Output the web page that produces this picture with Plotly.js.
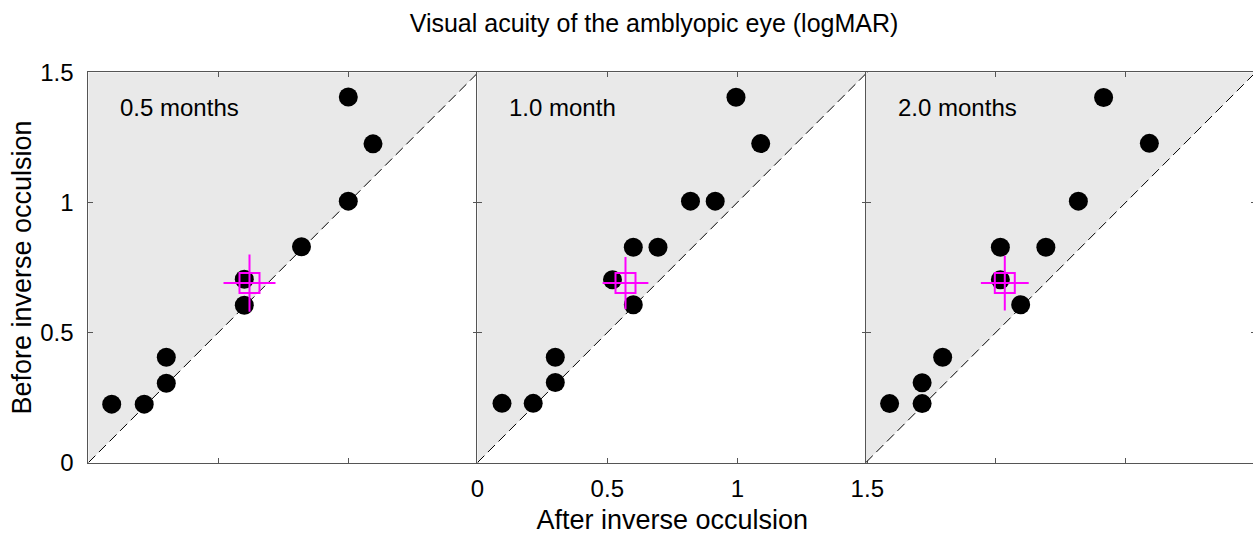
<!DOCTYPE html>
<html>
<head>
<meta charset="utf-8">
<script src="https://cdn.plot.ly/plotly-3.0.1.min.js"></script>
<style>
  html, body { margin: 0; padding: 0; overflow: hidden; background: #fff; }
  #chart { width: 1256px; height: 535px; }
</style>
</head>
<body>
<div id="chart"></div>
<script>
// ---- Data (logMAR) ----
const panelLabels = ["0.5 months", "1.0 month", "2.0 months"];

const after05  = [0.09, 0.215, 0.30, 0.30, 0.60, 0.60, 0.82, 1.00, 1.095, 1.00];
const before05 = [0.225, 0.225, 0.305, 0.405, 0.605, 0.705, 0.83, 1.005, 1.225, 1.405];

const after10  = [0.095, 0.215, 0.30, 0.30, 0.52, 0.60, 0.60, 0.695, 0.82, 0.915, 1.09, 0.995];
const before10 = [0.228, 0.228, 0.308, 0.405, 0.703, 0.607, 0.828, 0.828, 1.005, 1.005, 1.226, 1.404];

const after20  = [0.092, 0.217, 0.217, 0.296, 0.518, 0.518, 0.596, 0.693, 0.818, 1.091, 0.915];
const before20 = [0.227, 0.227, 0.307, 0.405, 0.703, 0.828, 0.607, 0.828, 1.005, 1.227, 1.403];

// mean and SD (magenta square + cross)
const meanAfter  = [0.62, 0.57, 0.535];
const meanBefore = [0.69, 0.69, 0.69];
const sdAfter    = [0.10, 0.088, 0.092];
const sdBefore   = [0.11, 0.10, 0.105];

const tickVals = [0, 0.5, 1, 1.5];
const tickText = ["0", "0.5", "1", "1.5"];

const axisRange = [0, 1.5];

// ---- Layout geometry ----
const W = 1256, H = 535;
const panelLeftPx = [88.3, 477.3, 865.7];
const panelW = 390;
const yTopPx = 72.3, yBotPx = 462.7;

const FONT = "Liberation Sans, Arial, Helvetica, sans-serif";

const afters = [after05, after10, after20];
const befores = [before05, before10, before20];

const traces = [];
const shapes = [];
const annotations = [];
const layout = {
  width: W, height: H,
  margin: {l: 0, r: 0, t: 0, b: 0, autoexpand: false},
  paper_bgcolor: "#fff",
  plot_bgcolor: "#fff",
  showlegend: false,
  font: {family: FONT, color: "#000", size: 24},
  title: {
    text: "Visual acuity of the amblyopic eye (logMAR)",
    font: {family: FONT, size: 25, color: "#000"},
    x: 654 / W, xanchor: "center", xref: "paper",
    y: 1 - 23 / H, yanchor: "middle", yref: "container"
  }
};

const yDomain = [1 - yBotPx / H, 1 - yTopPx / H];

for (let i = 0; i < 3; i++) {
  const sx = i === 0 ? "" : String(i + 1);
  const xa = "x" + sx, ya = "y" + sx;
  const x0 = panelLeftPx[i] / W, x1 = (panelLeftPx[i] + panelW) / W;

  layout["xaxis" + sx] = {
    domain: [x0, x1], range: axisRange, anchor: ya,
    showgrid: false, zeroline: false,
    showline: true, linecolor: "#555", linewidth: 1, mirror: "ticks",
    ticks: "inside", ticklen: 5, tickcolor: "#555", tickwidth: 1,
    tickvals: tickVals, ticktext: tickText,
    showticklabels: i === 1,
    tickfont: {family: FONT, size: 24, color: "#000"},
    ticklabelstandoff: 4,
    fixedrange: true
  };
  if (i === 1) {
    layout["xaxis" + sx].title = {
      text: "After inverse occulsion",
      font: {family: FONT, size: 27, color: "#000"},
      standoff: 10
    };
  }
  layout["yaxis" + sx] = {
    domain: yDomain, range: axisRange, anchor: xa,
    showgrid: false, zeroline: false,
    showline: true, linecolor: "#555", linewidth: 1, mirror: "ticks",
    ticks: "inside", ticklen: 5, tickcolor: "#555", tickwidth: 1,
    tickvals: tickVals, ticktext: tickText,
    showticklabels: i === 0,
    tickfont: {family: FONT, size: 24, color: "#000"},
    ticklabelstandoff: 9,
    fixedrange: true
  };
  if (i === 0) {
    layout["yaxis" + sx].title = {
      text: "Before inverse occulsion",
      font: {family: FONT, size: 27, color: "#000"},
      standoff: 0
    };
  }

  // shaded region above identity line
  shapes.push({
    type: "path", xref: xa, yref: ya,
    path: `M ${axisRange[0]},${axisRange[0]} L ${axisRange[0]},${axisRange[1]} L ${axisRange[1]},${axisRange[1]} Z`,
    fillcolor: "#e9e9e9", line: {width: 0}, layer: "below"
  });
  // dashed identity line
  shapes.push({
    type: "line", xref: xa, yref: ya,
    x0: axisRange[0], y0: axisRange[0], x1: axisRange[1], y1: axisRange[1],
    line: {color: "#000", width: 1, dash: "10px,5px"}, layer: "below"
  });

  traces.push({
    type: "scatter", mode: "markers", xaxis: xa, yaxis: ya,
    x: afters[i], y: befores[i],
    marker: {symbol: "circle", size: 19, color: "#000", line: {width: 0}},
    hoverinfo: "x+y"
  });
  traces.push({
    type: "scatter", mode: "markers", xaxis: xa, yaxis: ya,
    x: [meanAfter[i]], y: [meanBefore[i]],
    marker: {symbol: "square-open", size: 20, color: "#ff00ff", line: {width: 2, color: "#ff00ff"}},
    error_x: {type: "data", array: [sdAfter[i]], symmetric: true, width: 0, thickness: 2, color: "#ff00ff"},
    error_y: {type: "data", array: [sdBefore[i]], symmetric: true, width: 0, thickness: 2, color: "#ff00ff"},
    hoverinfo: "x+y"
  });

  annotations.push({
    xref: xa, yref: ya, x: 0.115, y: 1.364,
    xanchor: "left", yanchor: "middle",
    text: panelLabels[i], showarrow: false,
    font: {family: FONT, size: 24, color: "#000"}
  });
}

layout.shapes = shapes;
layout.annotations = annotations;

Plotly.newPlot("chart", traces, layout, {displayModeBar: false, staticPlot: false, responsive: false});
</script>
</body>
</html>
